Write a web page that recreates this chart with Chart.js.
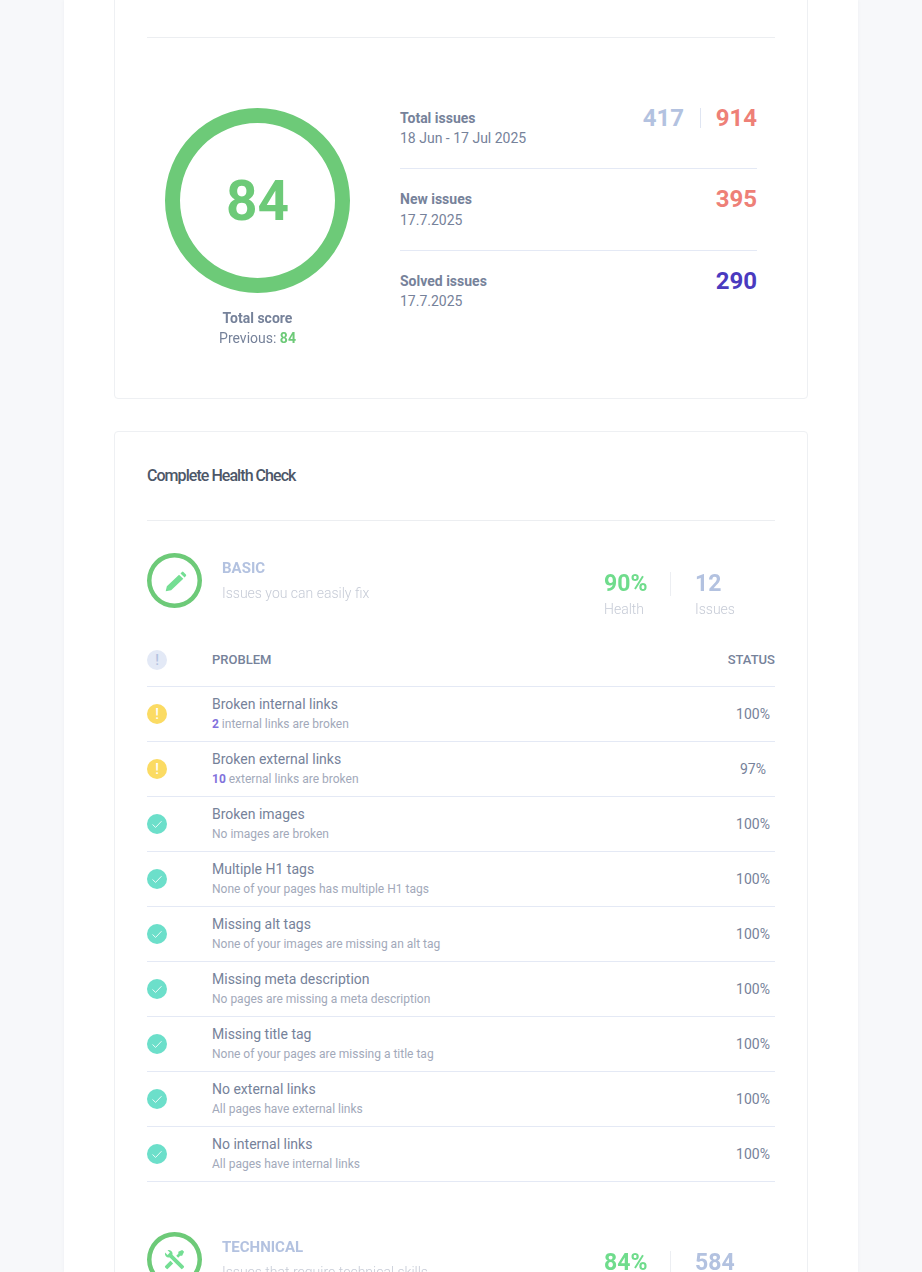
<!DOCTYPE html>
<html>
<head>
<meta charset="utf-8">
<title>Complete Health Check</title>
<script src="https://cdn.jsdelivr.net/npm/chart.js@4"></script>
<style>
html, body { margin: 0; padding: 0; background: #f7f8fa; }
#page { position: relative; width: 922px; height: 1272px; overflow: hidden; font-family: Roboto, sans-serif; }
#panel { position: absolute; left: 64px; top: 0; width: 794px; height: 1272px; background: #fff; box-shadow: 0 0 3px rgba(120,130,150,.08); }
.card { position: absolute; left: 114px; width: 692px; background: #fff; border: 1px solid #eef0f3; border-radius: 4px; }
.rule { position: absolute; height: 1px; background: #e4e9f5; }
.t { position: absolute; white-space: nowrap; line-height: 20px; height: 20px; }
.dot { position: absolute; left: 147px; width: 20px; height: 20px; border-radius: 50%; }
canvas { position: absolute; }
svg { position: absolute; }
</style>
</head>
<body>
<div id="page">
  <div id="panel"></div>
  <div class="card" style="top:-10px;height:407px"></div>
  <div class="card" style="top:431px;height:860px"></div>
</div>
<script>
const scoreRing = [100];
const score = '84';
const previousScore = '84';
const issueLabels = ['Total issues', 'New issues', 'Solved issues'];
const issueDates = ['18 Jun - 17 Jul 2025', '17.7.2025', '17.7.2025'];
const issueValues = ['914', '395', '290'];
const totalIssuesPrevious = '417';

const problemNames = ['Broken internal links', 'Broken external links', 'Broken images', 'Multiple H1 tags', 'Missing alt tags', 'Missing meta description', 'Missing title tag', 'No external links', 'No internal links'];
const problemCounts = ['2', '10', '', '', '', '', '', '', ''];
const problemNotes = ['internal links are broken', 'external links are broken', 'No images are broken', 'None of your pages has multiple H1 tags', 'None of your images are missing an alt tag', 'No pages are missing a meta description', 'None of your pages are missing a title tag', 'All pages have external links', 'All pages have internal links'];
const problemStatus = [100, 97, 100, 100, 100, 100, 100, 100, 100];
const problemOk = [false, false, true, true, true, true, true, true, true];

const pencilIcon = 'M2.6 22.4L3.7 17.5L15.4 6.4L19.5 10.4L7.8 21.3Z M16.8 5.2L18.2 3.8A1 1 0 0 1 19.6 3.8L22 6.2A1 1 0 0 1 22 7.6L20.7 9Z';
const toolsIcon = 'M21.71 20.29L20.29 21.71A1 1 0 0 1 18.88 21.71L7 9.85A3.81 3.81 0 0 1 6 10A4 4 0 0 1 2.22 4.7L4.76 7.24L5.29 6.71L6.71 5.29L7.24 4.76L4.7 2.22A4 4 0 0 1 10 6A3.81 3.81 0 0 1 9.85 7L21.71 18.88A1 1 0 0 1 21.71 20.29M2.29 18.88A1 1 0 0 0 2.29 20.29L3.71 21.71A1 1 0 0 0 5.12 21.71L10.59 16.25L7.76 13.42M20 2L16 4V6L13.83 8.17L15.83 10.17L18 8H20L22 4Z';

const page = document.getElementById('page');
const slate = '#76829a';
const green = '#6dca78';

// cy is the vertical centre of the text, anchor is l, r or c
function text(x, cy, str, size, color, weight, anchor, extra) {
    const el = document.createElement('div');
    el.className = 't';
    el.innerHTML = str;
    el.style.top = (cy - 10) + 'px';
    el.style.fontSize = size + 'px';
    el.style.color = color;
    el.style.fontWeight = weight || 400;
    if (anchor === 'r') {
        el.style.right = (922 - x) + 'px';
    } else if (anchor === 'c') {
        el.style.left = x + 'px';
        el.style.transform = 'translateX(-50%)';
    } else {
        el.style.left = x + 'px';
    }
    if (extra) el.style.cssText += extra;
    page.appendChild(el);
    return el;
}

function rule(x1, x2, y, color) {
    const el = document.createElement('div');
    el.className = 'rule';
    el.style.left = x1 + 'px';
    el.style.width = (x2 - x1) + 'px';
    el.style.top = y + 'px';
    if (color) el.style.background = color;
    page.appendChild(el);
}

function ring(x, y, size, thickness) {
    const canvas = document.createElement('canvas');
    canvas.width = size;
    canvas.height = size;
    canvas.style.left = x + 'px';
    canvas.style.top = y + 'px';
    page.appendChild(canvas);
    new Chart(canvas, {
        type: 'doughnut',
        data: {
            datasets: [{
                data: scoreRing,
                backgroundColor: [green],
                borderWidth: 0
            }]
        },
        options: {
            responsive: false,
            animation: { duration: 0 },
            cutout: size / 2 - thickness,
            plugins: {
                legend: { display: false },
                tooltip: { enabled: false }
            }
        }
    });
}

function icon(path, x, y, size, color) {
    const ns = 'http://www.w3.org/2000/svg';
    const svg = document.createElementNS(ns, 'svg');
    svg.setAttribute('viewBox', '0 0 24 24');
    svg.setAttribute('width', size);
    svg.setAttribute('height', size);
    svg.style.left = x + 'px';
    svg.style.top = y + 'px';
    const p = document.createElementNS(ns, 'path');
    p.setAttribute('d', path);
    p.setAttribute('fill', color);
    svg.appendChild(p);
    page.appendChild(svg);
}

function dot(cy, color) {
    const el = document.createElement('div');
    el.className = 'dot';
    el.style.top = (cy - 10) + 'px';
    el.style.background = color;
    page.appendChild(el);
}

function checkDot(cy) {
    dot(cy, '#6cdfca');
    const ns = 'http://www.w3.org/2000/svg';
    const svg = document.createElementNS(ns, 'svg');
    svg.setAttribute('width', 20);
    svg.setAttribute('height', 20);
    svg.style.left = '147px';
    svg.style.top = (cy - 10) + 'px';
    const p = document.createElementNS(ns, 'path');
    p.setAttribute('d', 'M5.5 10.5L8.6 13.4L14.5 7.2');
    p.setAttribute('fill', 'none');
    p.setAttribute('stroke', 'rgba(255,255,255,.85)');
    p.setAttribute('stroke-width', 1);
    svg.appendChild(p);
    page.appendChild(svg);
}

function section(top, title, subtitle, health, issues, path, iconX, iconY, iconSize) {
    ring(147, top, 55, 4.5);
    icon(path, iconX, top + iconY, iconSize, '#74de93');
    text(222, top + 15, title, 15, '#b3c2e0', 700);
    text(222, top + 40, subtitle, 14, '#c6cbd6', 300);
    text(604, top + 31, health, 23, '#6fdc8c', 700);
    text(604, top + 56, 'Health', 14, '#c6cbd6', 300);
    rule(670, 671, top + 19, '#eceef2');
    page.lastChild.style.height = '24px';
    text(695, top + 31, issues, 23, '#b3c2e0', 700);
    text(695, top + 56, 'Issues', 14, '#c6cbd6', 300);
}

// top card
rule(147, 775, 37, '#eceef1');
ring(165, 108, 185, 15);
text(257.5, 200.5, score, 55, green, 700, 'c', 'line-height:56px;height:56px;top:172.5px');
text(257.5, 318, 'Total score', 14, slate, 700, 'c');
text(257.5, 338, 'Previous: <b style="color:' + green + '">' + previousScore + '</b>', 14, slate, 400, 'c');

const issueTops = [118, 199, 281];
const dateOffsets = [20, 21, 20];
const issueColors = ['#ee8077', '#ee8077', '#4a3abf'];
issueLabels.forEach((label, i) => {
    text(400, issueTops[i], label, 14, slate, 700);
    text(400, issueTops[i] + dateOffsets[i], issueDates[i], 14, slate, 400);
    text(757, issueTops[i], issueValues[i], 24, issueColors[i], 700, 'r');
});
text(684, 118, totalIssuesPrevious, 24, '#b3c2e0', 700, 'r');
rule(700, 701, 108, '#dfe5f2');
page.lastChild.style.height = '20px';
rule(400, 757, 168);
rule(400, 757, 250);

// health check card
text(147, 475.5, 'Complete Health Check', 16, '#4d5768', 500, 'l', 'letter-spacing:-0.95px');
rule(147, 775, 520, '#eceef1');

section(553, 'BASIC', 'Issues you can easily fix', '90%', '12', pencilIcon, 162.5, 14.5, 25);

dot(660, '#e3e9f6');
text(157, 660, '!', 14, '#b3c2e0', 500, 'c');
text(212, 659.5, 'PROBLEM', 13, slate, 500);
text(775, 659.5, 'STATUS', 13, slate, 500, 'r');
rule(147, 775, 686);

problemNames.forEach((name, i) => {
    const y = 686 + 55 * i;
    if (problemOk[i]) {
        checkDot(y + 28);
    } else {
        dot(y + 28, '#fbdb63');
        text(157, y + 28, '!', 14, '#fff', 500, 'c');
    }
    text(212, y + 18, name, 14, slate, 400);
    const count = problemCounts[i] ? '<b style="color:#8272dc">' + problemCounts[i] + '</b> ' : '';
    text(212, y + 38, count + problemNotes[i], 12, '#a2a9ba', 400);
    text(753, y + 28, problemStatus[i] + '%', 14, slate, 400, 'c');
    rule(147, 775, y + 55);
});

section(1232, 'TECHNICAL', 'Issues that require technical skills', '84%', '584', toolsIcon, 163, 16, 23);
</script>
</body>
</html>
